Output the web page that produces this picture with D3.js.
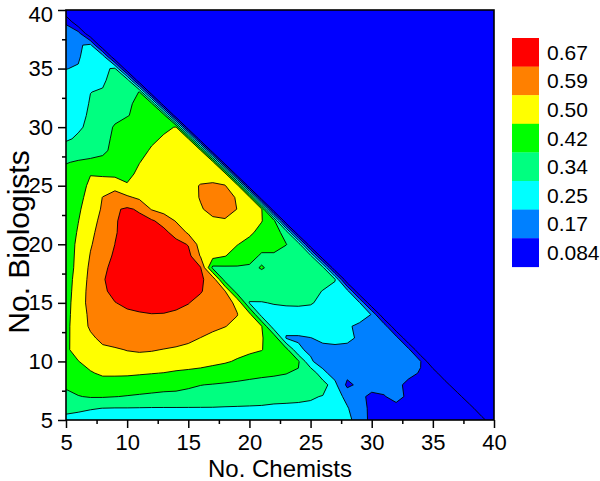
<!DOCTYPE html>
<html><head><meta charset="utf-8">
<script src="https://cdn.jsdelivr.net/npm/d3@7"></script>
<style>
body{margin:0;background:#fff;}
svg{display:block;}
text{font-family:"Liberation Sans",Arial,sans-serif;fill:#000;}
</style>
</head><body>
<svg id="chart" width="600" height="481"></svg>
<script>
// grid axes (number of chemists / biologists in a team)
const chemists = [5,6,7,8,9,10,11,12,13,14,15,16,17,18,19,20,21,22,23,24,25,26,27,28,29,30,31,32,33,34,35,36,37,38,39,40];
const biologists = [5,6,7,8,9,10,11,12,13,14,15,16,17,18,19,20,21,22,23,24,25,26,27,28,29,30,31,32,33,34,35,36,37,38,39,40];
const xTicks = [5,10,15,20,25,30,35,40];
const yTicks = [5,10,15,20,25,30,35,40];
const xMinorTicks = [7.5,12.5,17.5,22.5,27.5,32.5,37.5];
const yMinorTicks = [7.5,12.5,17.5,22.5,27.5,32.5,37.5];
const levels = [0.0837,0.1674,0.2511,0.3348,0.4185,0.5022,0.5859,0.6696];
const levelLabels = ["0.084","0.17","0.25","0.34","0.42","0.50","0.59","0.67"];
const levelColors = ["#0000FF","#0080FF","#00FFFF","#00FF80","#00FF00","#FFFF00","#FF8000","#FF0000"];

// score per row of biologists (5,6,...,39); each row starts at 5 chemists and
// stops at the last sampled team (chemists + biologists <= 44); unsampled = 0
const scoreRows = [
 [.31,.305,.30,.30,.30,.30,.30,.30,.30,.30,.30,.30,.30,.30,.30,.30,.30,.30,.30,.295,.29,.28,.275,.27,.22,.14,.13,.13,.13,.13,.12,.12,.12,.12,.12],
 [.36,.35,.34,.334,.332,.332,.331,.33,.33,.33,.33,.33,.33,.328,.327,.326,.325,.32,.32,.32,.315,.30,.28,.26,.18,.16,.16,.155,.15,.14,.13,.13,.13,.13],
 [.40,.415,.425,.425,.42,.415,.41,.405,.40,.40,.395,.39,.385,.38,.375,.37,.365,.36,.355,.35,.345,.33,.30,.22,.175,.16,.165,.18,.16,.14,.13,.13,.13],
 [.43,.45,.46,.465,.465,.46,.455,.45,.445,.44,.43,.42,.415,.41,.405,.40,.40,.40,.40,.395,.39,.38,.27,.15,.185,.18,.18,.175,.16,.145,.13,.13],
 [.45,.48,.495,.515,.515,.515,.51,.505,.50,.49,.485,.48,.47,.46,.45,.44,.43,.425,.42,.41,.40,.27,.22,.19,.19,.19,.185,.18,.175,.165,.14],
 [.47,.50,.53,.55,.56,.565,.565,.56,.555,.55,.54,.53,.52,.51,.495,.48,.465,.45,.44,.43,.26,.22,.20,.20,.20,.20,.195,.19,.185,.17],
 [.49,.53,.56,.575,.58,.588,.592,.59,.584,.578,.57,.56,.55,.54,.525,.515,.505,.47,.45,.26,.24,.24,.24,.24,.235,.225,.21,.20,.19],
 [.485,.54,.575,.60,.61,.615,.62,.62,.615,.61,.60,.585,.57,.555,.54,.525,.505,.48,.245,.245,.25,.26,.265,.26,.245,.235,.22,.20],
 [.48,.55,.595,.625,.64,.65,.655,.655,.65,.64,.63,.615,.60,.588,.57,.54,.505,.28,.275,.275,.28,.285,.28,.255,.245,.235,.22],
 [.475,.55,.60,.635,.655,.66,.665,.668,.667,.66,.65,.635,.62,.605,.588,.53,.30,.30,.305,.31,.31,.31,.30,.285,.265,.25],
 [.47,.55,.61,.65,.668,.68,.685,.69,.69,.685,.672,.65,.63,.605,.575,.33,.33,.34,.345,.345,.34,.32,.30,.28,.26],
 [.465,.545,.61,.66,.685,.70,.705,.71,.71,.705,.69,.675,.64,.59,.37,.375,.38,.38,.375,.365,.35,.333,.31,.28],
 [.46,.54,.605,.665,.69,.71,.72,.72,.72,.715,.70,.68,.64,.38,.39,.40,.405,.40,.39,.38,.37,.355,.34],
 [.455,.53,.60,.655,.69,.71,.72,.725,.72,.71,.695,.675,.40,.405,.41,.41,.421,.41,.40,.39,.375,.36],
 [.455,.525,.59,.64,.68,.705,.72,.725,.72,.71,.695,.58,.53,.505,.47,.44,.41,.41,.40,.38,.36],
 [.455,.52,.58,.62,.67,.70,.71,.715,.71,.695,.665,.55,.54,.525,.505,.48,.44,.44,.42,.39],
 [.45,.51,.57,.615,.665,.69,.70,.695,.69,.64,.575,.555,.555,.55,.535,.515,.48,.44,.40],
 [.45,.50,.56,.605,.665,.685,.69,.68,.64,.58,.56,.565,.575,.58,.57,.545,.505,.45],
 [.445,.49,.545,.595,.66,.68,.66,.58,.55,.54,.55,.58,.605,.61,.585,.55,.51],
 [.44,.48,.53,.588,.60,.60,.57,.545,.53,.53,.56,.59,.61,.61,.58,.53],
 [.44,.475,.515,.545,.575,.51,.53,.54,.545,.55,.565,.59,.595,.588,.55],
 [.44,.465,.50,.49,.475,.48,.52,.54,.545,.55,.555,.56,.56,.55],
 [.415,.425,.43,.43,.44,.46,.50,.53,.54,.545,.55,.55,.54],
 [.37,.385,.395,.41,.43,.45,.48,.51,.525,.53,.53,.52],
 [.325,.345,.37,.40,.43,.45,.47,.49,.51,.515,.51],
 [.31,.325,.35,.39,.425,.445,.46,.475,.49,.505],
 [.30,.315,.345,.38,.40,.415,.435,.45,.46],
 [.29,.305,.34,.37,.39,.41,.43,.44],
 [.28,.295,.334,.34,.37,.395,.42],
 [.265,.28,.30,.325,.36,.38],
 [.25,.255,.29,.32,.345],
 [.225,.245,.28,.30],
 [.21,.24,.27],
 [.19,.20],
 [.16]
];

const plot = {left: 66, right: 494, top: 10, bottom: 420};
const svg = d3.select("#chart");

const x = d3.scaleLinear().domain([5, 40]).range([plot.left, plot.right]);
const y = d3.scaleLinear().domain([5, 40]).range([plot.bottom, plot.top]);

const nx = chemists.length, ny = biologists.length;
const grid = new Array(nx * ny).fill(0);
scoreRows.forEach((row, j) => row.forEach((v, i) => { grid[j * nx + i] = v; }));

const contours = d3.contours().size([nx, ny]).thresholds(levels)(grid);

const proj = d3.geoTransform({
  point: function(px, py) {
    this.stream.point(x(chemists[0] + px - 0.5), y(biologists[0] + py - 0.5));
  }
});
const path = d3.geoPath(proj);

svg.append("defs").append("clipPath").attr("id", "clip")
  .append("rect").attr("x", plot.left).attr("y", plot.top)
  .attr("width", plot.right - plot.left).attr("height", plot.bottom - plot.top);

const gp = svg.append("g").attr("clip-path", "url(#clip)");
gp.append("rect").attr("x", plot.left).attr("y", plot.top)
  .attr("width", plot.right - plot.left).attr("height", plot.bottom - plot.top)
  .attr("fill", levelColors[0]);

gp.selectAll("path.band").data(contours.slice(1)).join("path")
  .attr("class", "band")
  .attr("d", path)
  .attr("fill", (d, i) => levelColors[i + 1])
  .attr("stroke", "none");

gp.selectAll("path.iso").data(contours).join("path")
  .attr("class", "iso")
  .attr("d", path)
  .attr("fill", "none")
  .attr("stroke", "#000")
  .attr("stroke-width", 0.9)
  .attr("stroke-linejoin", "round");

// axes
function styleAxis(g, fs) {
  g.select(".domain").remove();
  g.selectAll(".tick line").attr("stroke", "#000").attr("stroke-width", 1.5);
  g.selectAll(".tick text").attr("font-size", fs).attr("font-family", "Liberation Sans, Arial, sans-serif").attr("fill", "#000");
}
svg.append("g").attr("transform", `translate(0,${plot.bottom})`)
  .call(d3.axisBottom(x).tickValues(xTicks).tickSize(8).tickPadding(6).tickFormat(d3.format("d")))
  .call(g => styleAxis(g, 22));
svg.append("g").attr("transform", `translate(0,${plot.bottom})`)
  .call(d3.axisBottom(x).tickValues(xMinorTicks).tickSize(4).tickFormat(""))
  .call(g => styleAxis(g, 22));
svg.append("g").attr("transform", `translate(${plot.left},0)`)
  .call(d3.axisLeft(y).tickValues(yTicks).tickSize(8).tickPadding(5).tickFormat(d3.format("d")))
  .call(g => styleAxis(g, 22))
  .call(g => g.selectAll(".tick text").filter(d => d === 40).attr("dy", "0.5em"));
svg.append("g").attr("transform", `translate(${plot.left},0)`)
  .call(d3.axisLeft(y).tickValues(yMinorTicks).tickSize(4).tickFormat(""))
  .call(g => styleAxis(g, 22));

// frame
svg.append("rect").attr("x", plot.left).attr("y", plot.top)
  .attr("width", plot.right - plot.left).attr("height", plot.bottom - plot.top)
  .attr("fill", "none").attr("stroke", "#000").attr("stroke-width", 1.6);

// axis titles
svg.append("text").attr("x", (plot.left + plot.right) / 2).attr("y", 477)
  .attr("text-anchor", "middle").attr("font-size", 24).text("No. Chemists");
svg.append("text").attr("transform", `translate(29,242) rotate(-90)`)
  .attr("text-anchor", "middle").attr("font-size", 30).text("No. Biologists");

// legend
const legend = {x: 512, y: 38, w: 27, h: 28.6};
const order = d3.range(levels.length).reverse();
const lg = svg.append("g");
lg.selectAll("rect").data(order).join("rect")
  .attr("x", legend.x).attr("y", (d, i) => legend.y + i * legend.h)
  .attr("width", legend.w).attr("height", legend.h + 0.3)
  .attr("fill", d => levelColors[d]);
lg.selectAll("text").data(order).join("text")
  .attr("x", legend.x + legend.w + 8).attr("y", (d, i) => legend.y + i * legend.h + legend.h / 2)
  .attr("dy", "0.36em").attr("font-size", 21)
  .text(d => levelLabels[d]);
</script>
</body></html>
